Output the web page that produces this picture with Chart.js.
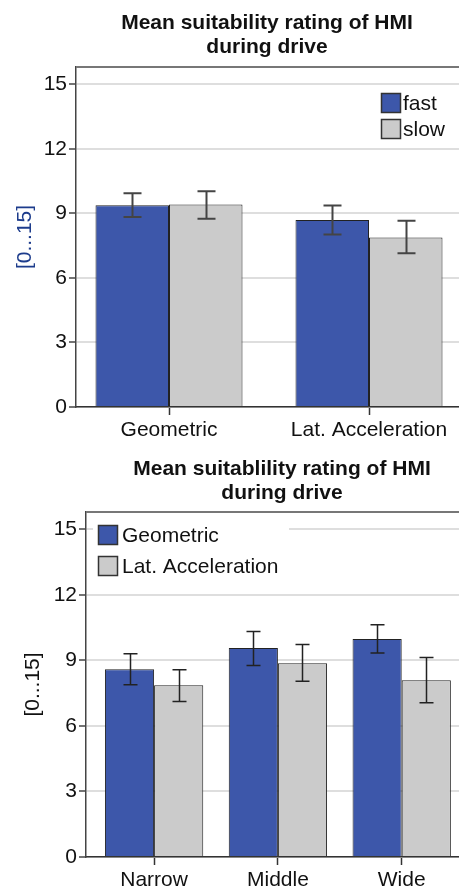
<!DOCTYPE html>
<html>
<head>
<meta charset="utf-8">
<script src="https://cdn.jsdelivr.net/npm/chart.js@4.4.1/dist/chart.umd.min.js"></script>
<style>
  html, body { margin: 0; padding: 0; background: #fff; }
  body { width: 459px; height: 891px; overflow: hidden; position: relative;
         font-family: "Liberation Sans", Arial, sans-serif; color: #111; }
  .panel { position: absolute; left: 0; }
  .panel canvas { display: block; }
  .title { position: absolute; font-weight: bold; font-size: 21px; line-height: 24px;
           text-align: center; white-space: nowrap; transform: translateX(-50%); z-index: 2; }
  .frag { position: absolute; left: 0; top: -18px; font-size: 20px; white-space: nowrap; }
</style>
</head>
<body>
<div class="frag">d effects.</div>
<div class="panel" style="top:0"><canvas id="speedChart" width="480" height="450"></canvas></div>
<div class="panel" style="top:450px"><canvas id="curveChart" width="480" height="441"></canvas></div>
<div class="title" style="left:267px; top:10px">Mean suitability rating of HMI<br>during drive</div>
<div class="title" style="left:282px; top:456px">Mean suitablility rating of HMI<br>during drive</div>

<script>
// ---- data: upper panel (HMI type x driving speed) ----
const hmiTypes = ['Geometric', 'Lat. Acceleration'];
const fastMeans = [9.38, 8.69];
const fastLow   = [8.83, 8.02];
const fastHigh  = [9.93, 9.36];
const slowMeans = [9.41, 7.88];
const slowLow   = [8.75, 7.14];
const slowHigh  = [10.03, 8.65];

// ---- data: lower panel (curve width x HMI type) ----
const curveWidths = ['Narrow', 'Middle', 'Wide'];
const geometricMeans = [8.60, 9.57, 9.98];
const geometricLow   = [7.89, 8.77, 9.34];
const geometricHigh  = [9.31, 10.33, 10.64];
const latAccMeans = [7.86, 8.87, 8.09];
const latAccLow   = [7.12, 8.05, 7.06];
const latAccHigh  = [8.57, 9.73, 9.14];

const ratingTicks = [0, 3, 6, 9, 12, 15];
const ratingMax = 15.8;
const axisLabel = '[0...15]';

const BLUE = '#3d57aa';
const GREY = '#cbcbcb';
const FONT = '"Liberation Sans", Arial, sans-serif';
const TEXT_SIZE = 21;

// whiskers for each bar, read from dataset.low / dataset.high
const errorBars = {
  id: 'errorBars',
  afterDatasetsDraw(chart, args, opts) {
    const { ctx } = chart;
    const y = chart.scales.y;
    ctx.save();
    ctx.strokeStyle = opts.color;
    ctx.lineWidth = opts.width;
    chart.data.datasets.forEach((ds, di) => {
      const meta = chart.getDatasetMeta(di);
      meta.data.forEach((bar, i) => {
        const x = Math.round(bar.x) + 0.5;
        const yl = y.getPixelForValue(ds.low[i]);
        const yh = y.getPixelForValue(ds.high[i]);
        const h = opts.cap / 2;
        ctx.beginPath();
        ctx.moveTo(x, yl); ctx.lineTo(x, yh);
        ctx.moveTo(x - h, yl); ctx.lineTo(x + h, yl);
        ctx.moveTo(x - h, yh); ctx.lineTo(x + h, yh);
        ctx.stroke();
      });
    });
    ctx.restore();
  }
};

// top edge of the plot frame
const frameTop = {
  id: 'frameTop',
  beforeDatasetsDraw(chart) {
    const { ctx, chartArea: a } = chart;
    ctx.save();
    ctx.strokeStyle = '#777';
    ctx.lineWidth = 2;
    ctx.beginPath();
    ctx.moveTo(a.left, a.top); ctx.lineTo(a.right, a.top);
    ctx.stroke();
    ctx.restore();
  }
};

// legend drawn inside the plot area
const innerLegend = {
  id: 'innerLegend',
  afterDatasetsDraw(chart, args, opts) {
    const { ctx, chartArea: a } = chart;
    ctx.save();
    if (opts.clear) {
      ctx.fillStyle = '#fff';
      ctx.fillRect(a.left + opts.clear[0], a.top + opts.clear[1], opts.clear[2], opts.clear[3]);
    }
    ctx.font = TEXT_SIZE + 'px ' + FONT;
    ctx.textBaseline = 'middle';
    chart.data.datasets.forEach((ds, i) => {
      const bx = a.left + opts.x;
      const by = a.top + opts.y + i * opts.step;
      ctx.fillStyle = ds.backgroundColor;
      ctx.fillRect(bx, by, 20, 20);
      ctx.strokeStyle = '#333';
      ctx.lineWidth = 1.5;
      ctx.strokeRect(bx + 0.5, by + 0.5, 19, 19);
      ctx.fillStyle = '#111';
      ctx.fillText(ds.label, bx + opts.textGap, by + 11);
    });
    ctx.restore();
  }
};

function buildChart(id, cfg) {
  return new Chart(document.getElementById(id), {
    type: 'bar',
    data: {
      datasets: cfg.series.map(s => ({
        label: s.label,
        data: s.means.map((v, i) => ({ x: i, y: v })),
        low: s.low,
        high: s.high,
        backgroundColor: s.color,
        borderColor: '#222',
        borderWidth: 1,
        categoryPercentage: cfg.catPct,
        barPercentage: 1
      }))
    },
    options: {
      responsive: false,
      animation: false,
      devicePixelRatio: 1,
      layout: { padding: { top: cfg.padTop, right: cfg.padRight, left: 0, bottom: 0 } },
      plugins: {
        legend: { display: false },
        tooltip: { enabled: false },
        errorBars: cfg.err,
        innerLegend: cfg.legend
      },
      scales: {
        x: {
          type: 'linear',
          offset: false,
          min: cfg.xMin,
          max: cfg.xMax,
          afterBuildTicks: s => { s.ticks = cfg.cats.map((c, i) => ({ value: i })); },
          afterFit: s => { s.height = cfg.xHeight; },
          ticks: {
            callback: v => cfg.cats[v],
            autoSkip: false, maxRotation: 0, padding: 3,
            color: '#111', font: { family: FONT, size: TEXT_SIZE }
          },
          grid: { offset: false, drawOnChartArea: false, tickLength: 8, tickColor: '#333', tickWidth: 1.5 },
          border: { color: '#333', width: 1.5 }
        },
        y: {
          min: 0,
          max: ratingMax,
          afterBuildTicks: s => { s.ticks = ratingTicks.map(v => ({ value: v })); },
          afterFit: s => { s.width = cfg.yWidth; },
          ticks: { padding: 2, color: '#111', font: { family: FONT, size: TEXT_SIZE } },
          grid: { color: '#dedede', lineWidth: 2, tickLength: 7, tickColor: '#444', tickWidth: 1.5 },
          border: { color: '#444', width: 1.5 },
          title: {
            display: true, text: axisLabel, color: cfg.axisColor,
            padding: { top: cfg.titlePad, bottom: 0 },
            font: { family: FONT, size: TEXT_SIZE }
          }
        }
      }
    },
    plugins: [frameTop, errorBars, innerLegend]
  });
}

buildChart('speedChart', {
  cats: hmiTypes,
  series: [
    { label: 'fast', means: fastMeans, low: fastLow, high: fastHigh, color: BLUE },
    { label: 'slow', means: slowMeans, low: slowLow, high: slowHigh, color: GREY }
  ],
  xMin: -0.465, xMax: 1.535, catPct: 0.735,
  padTop: 67, padRight: 4, yWidth: 76, xHeight: 43,
  axisColor: '#1d3c8c', titlePad: 13,
  err: { color: '#444', width: 2, cap: 18 },
  legend: { x: 305, y: 26, step: 26, textGap: 22 }
});

buildChart('curveChart', {
  cats: curveWidths,
  series: [
    { label: 'Geometric', means: geometricMeans, low: geometricLow, high: geometricHigh, color: BLUE },
    { label: 'Lat. Acceleration', means: latAccMeans, low: latAccLow, high: latAccHigh, color: GREY }
  ],
  xMin: -0.55, xMax: 2.6, catPct: 0.794,
  padTop: 62, padRight: 4, yWidth: 86, xHeight: 34,
  axisColor: '#111', titlePad: 21,
  err: { color: '#222', width: 1.5, cap: 14 },
  legend: { x: 12, y: 13, step: 31, textGap: 24, clear: [7, 8, 196, 70] }
});
</script>
</body>
</html>
